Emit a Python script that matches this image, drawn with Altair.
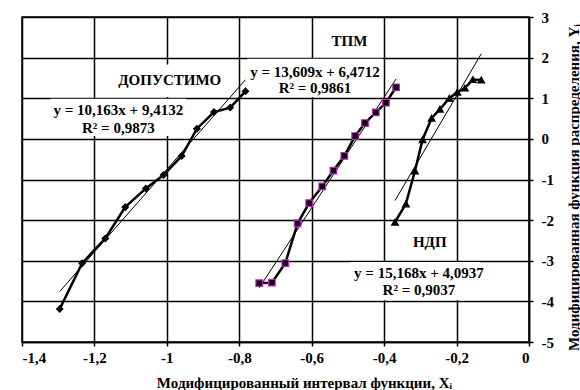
import altair as alt
import pandas as pd

# ---- data ----
series_names = ["ДОПУСТИМО", "ТПМ", "НДП"]

dop_x = [-1.296, -1.234, -1.170, -1.115, -1.058, -1.009, -0.959, -0.917, -0.870, -0.825, -0.783]
dop_y = [-4.19, -3.06, -2.45, -1.68, -1.22, -0.89, -0.42, 0.25, 0.66, 0.77, 1.17]

tpm_x = [-0.745, -0.710, -0.673, -0.639, -0.607, -0.571, -0.540, -0.510, -0.480, -0.453, -0.423, -0.395, -0.367]
tpm_y = [-3.55, -3.54, -3.06, -2.08, -1.58, -1.17, -0.78, -0.42, 0.07, 0.39, 0.65, 0.89, 1.27]

ndp_x = [-0.370, -0.340, -0.315, -0.294, -0.269, -0.246, -0.220, -0.198, -0.177, -0.155, -0.132]
ndp_y = [-2.05, -1.60, -0.79, -0.02, 0.51, 0.73, 1.00, 1.15, 1.25, 1.46, 1.45]

slopes = [10.163, 13.609, 15.168]
intercepts = [9.4132, 6.4712, 4.0937]
r2 = ["0,9873", "0,9861", "0,9037"]

x_ticks = [-1.4, -1.2, -1.0, -0.8, -0.6, -0.4, -0.2, 0.0]
y_ticks = [-5, -4, -3, -2, -1, 0, 1, 2, 3]

# annotation placement (data coordinates)
label_x = [-0.992, -0.496, -0.274]
label_y = [1.44, 2.40, -2.53]
eq_x = [-1.134, -0.591, -0.304]
eq_y1 = [0.714, 1.65, -3.30]
eq_y2 = [0.27, 1.256, -3.72]

box_x1 = [-1.143, -1.322, -0.563, -0.778, -0.494]
box_x2 = [-0.839, -0.947, -0.434, -0.404, -0.134]
box_y1 = [1.83, 0.985, 2.68, 1.97, -3.03]
box_y2 = [1.03, 0.07, 2.04, 1.03, -3.97]

# ---- tables ----
xs_all = [dop_x, tpm_x, ndp_x]
ys_all = [dop_y, tpm_y, ndp_y]
rows = []
for name, xs, ys in zip(series_names, xs_all, ys_all):
    for i, (a, b) in enumerate(zip(xs, ys)):
        rows.append({"series": name, "idx": i, "x": a, "y": b})
df_pts = pd.DataFrame(rows)

trows = []
for name, xs, k, c in zip(series_names, xs_all, slopes, intercepts):
    for xv in (min(xs), max(xs)):
        trows.append({"series": name, "x": xv, "y": k * xv + c})
df_trend = pd.DataFrame(trows)

def fmt(v):
    return str(v).replace(".", ",")

ann_rows = []
for i, name in enumerate(series_names):
    ann_rows.append({"x": label_x[i], "y": label_y[i], "text": name})
    ann_rows.append({"x": eq_x[i], "y": eq_y1[i],
                     "text": f"y = {fmt(slopes[i])}x + {fmt(intercepts[i])}"})
    ann_rows.append({"x": eq_x[i], "y": eq_y2[i], "text": f"R² = {r2[i]}"})
df_ann = pd.DataFrame(ann_rows)

df_box = pd.DataFrame({"x1": box_x1, "x2": box_x2, "y1": box_y1, "y2": box_y2})

# ---- scales / axes ----
xscale = alt.Scale(domain=[-1.4, 0], nice=False, zero=False)
yscale = alt.Scale(domain=[-5, 3], nice=False, zero=False)
xaxis = alt.Axis(values=x_ticks, labelExpr="replace(toString(datum.value), '.', ',')",
                 title="Модифицированный интервал  функции, Xᵢ",
                 labelPadding=4, titleX=282, titleY=40, titleBaseline="middle")
yaxis = alt.Axis(values=y_ticks, orient="right", labelExpr="toString(datum.value)",
                 title="Модифицированная функция распределения, Yᵢ",
                 labelAlign="left", labelPadding=8, titleAngle=270,
                 titleX=44, titleY=170, titleBaseline="middle", titleAlign="center")

def X(f):
    return alt.X(f, type="quantitative", scale=xscale, axis=xaxis)

def Y(f):
    return alt.Y(f, type="quantitative", scale=yscale, axis=yaxis)

boxes = alt.Chart(df_box).mark_rect(color="white").encode(
    x=X("x1"), x2="x2", y=Y("y1"), y2="y2")

trend = alt.Chart(df_trend).mark_line(color="black", strokeWidth=1).encode(
    x=X("x"), y=Y("y"), detail="series:N")

lines = alt.Chart(df_pts).mark_line(color="black", strokeWidth=2.5).encode(
    x=X("x"), y=Y("y"), detail="series:N", order="idx:Q")

points = alt.Chart(df_pts).mark_point(filled=True, opacity=1).encode(
    x=X("x"), y=Y("y"),
    shape=alt.Shape("series:N", scale=alt.Scale(domain=series_names,
                    range=["diamond", "square", "triangle-up"]), legend=None),
    size=alt.Size("series:N", scale=alt.Scale(domain=series_names, range=[40, 45, 55]), legend=None),
    fill=alt.Fill("series:N", scale=alt.Scale(domain=series_names,
                  range=["black", "black", "black"]), legend=None),
    stroke=alt.Stroke("series:N", scale=alt.Scale(domain=series_names,
                      range=["black", "#c020c0", "black"]), legend=None),
    strokeWidth=alt.value(1.2),
)

texts = alt.Chart(df_ann).mark_text(font="Liberation Serif", fontWeight="bold", fontSize=15,
                                    baseline="middle", align="center", color="black").encode(
    x=X("x"), y=Y("y"), text="text:N")

chart = alt.layer(boxes, trend, lines, points, texts).properties(
    width=507, height=325,
    padding={"left": 22, "top": 17, "right": 51, "bottom": 48},
    autosize=alt.AutoSizeParams(type="none"),
    background="white",
).configure_view(stroke="black", strokeWidth=1.5).configure_axis(
    labelFont="Liberation Serif", labelFontWeight="bold", labelFontSize=15, labelColor="black",
    titleFont="Liberation Serif", titleFontWeight="bold", titleFontSize=15, titleColor="black",
    grid=True, gridColor="black", gridWidth=1.5, gridOpacity=1,
    domainColor="black", domainWidth=1.5, tickColor="black", tickSize=4, tickWidth=1.5,
)

chart.save("out.html", embed_options={"renderer": "svg", "actions": False})
